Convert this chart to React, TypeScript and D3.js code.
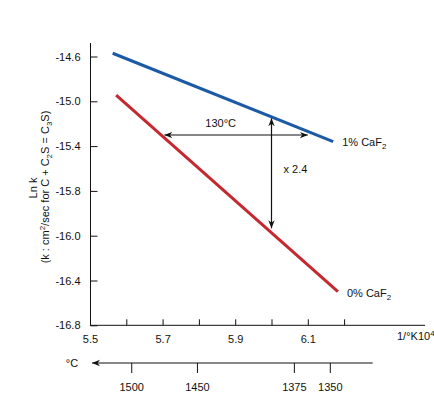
import React, { useEffect, useRef } from "react";
import * as d3 from "d3";

// axis ticks
const xTicks = [5.5, 5.6, 5.7, 5.8, 5.9, 6.0, 6.1, 6.2];
const xLabels = ["5.5", "", "5.7", "", "5.9", "", "6.1", ""];
const yTicks = [-14.6, -15.0, -15.4, -15.8, -16.0, -16.4, -16.8];
const yLabels = ["-14.6", "-15.0", "-15.4", "-15.8", "-16.0", "-16.4", "-16.8"];

// the two lines (1/K x 10^4, ln k)
const caf1X = [5.5625, 6.17];
const caf1Y = [-14.571, -15.361];
const caf0X = [5.572, 6.183];
const caf0Y = [-14.944, -16.5];

// temperature scale under the chart
const tempC = [1500, 1450, 1375, 1350];
const tempAt = [5.615, 5.796, 6.063, 6.162];

// the 130°C / x2.4 arrows
const hArrowX = [5.705, 6.1];
const hArrowY = -15.301;
const vArrowX = 6.0;
const vArrowY = [-15.152, -15.967];

const FONT = "'Liberation Sans', Arial, sans-serif";

const App = () => {
  const svgRef = useRef<SVGSVGElement>(null);

  useEffect(() => {
    const w = 434;
    const h = 393;
    const svg = d3.select(svgRef.current).attr("width", w).attr("height", h);
    svg.selectAll("*").remove();

    const x0 = 90;
    const yBottom = 325.3;
    const xScale = d3.scaleLinear().domain([5.5, 6.1]).range([x0, 307.8]);
    const yScale = d3
      .scaleLinear()
      .domain(yTicks)
      .range(yTicks.map((_, i) => 56.5 + i * 44.8));

    const defs = svg.append("defs");
    defs
      .append("marker")
      .attr("id", "head")
      .attr("viewBox", "-8 -4 9 8")
      .attr("refX", 0)
      .attr("refY", 0)
      .attr("markerWidth", 9)
      .attr("markerHeight", 8)
      .attr("markerUnits", "userSpaceOnUse")
      .attr("orient", "auto-start-reverse")
      .append("path")
      .attr("d", "M0,0L-8,-3.2L-5.5,0L-8,3.2Z")
      .attr("fill", "#111");

    // axis lines
    svg
      .append("line")
      .attr("x1", x0 + 0.5)
      .attr("x2", x0 + 0.5)
      .attr("y1", 43)
      .attr("y2", yBottom)
      .attr("stroke", "#111");
    svg
      .append("line")
      .attr("x1", x0)
      .attr("x2", 425)
      .attr("y1", yBottom)
      .attr("y2", yBottom)
      .attr("stroke", "#111");

    const yAxis = d3
      .axisLeft(yScale)
      .tickValues(yTicks)
      .tickSize(-7)
      .tickPadding(10)
      .tickFormat((d, i) => yLabels[i]);
    const gy = svg.append("g").attr("transform", `translate(${x0 + 0.5},0)`).call(yAxis);
    gy.select(".domain").remove();

    const xAxis = d3
      .axisBottom(xScale)
      .tickValues(xTicks)
      .tickSize(-6)
      .tickPadding(10)
      .tickFormat((d, i) => xLabels[i]);
    const gx = svg.append("g").attr("transform", `translate(0,${yBottom})`).call(xAxis);
    gx.select(".domain").remove();

    [gx, gy].forEach((g) => {
      g.selectAll("line").attr("stroke", "#111");
      g.selectAll("text").attr("font-size", 11).attr("font-family", FONT).attr("fill", "#111");
    });

    const xl = svg
      .append("text")
      .attr("x", 397)
      .attr("y", yBottom + 15)
      .attr("font-size", 11)
      .attr("font-family", FONT)
      .attr("fill", "#111")
      .text("1/°K10");
    xl.append("tspan").attr("dy", -4).attr("font-size", 8).text("4");

    // y title
    const yt = svg
      .append("g")
      .attr("font-size", 11)
      .attr("font-family", FONT)
      .attr("fill", "#111")
      .attr("text-anchor", "middle");
    yt.append("text")
      .attr("transform", "translate(37,188) rotate(-90)")
      .text("Ln k");
    const t2 = yt.append("text").attr("transform", "translate(49,187) rotate(-90)");
    t2.append("tspan").text("(k : cm");
    t2.append("tspan").attr("dy", -4).attr("font-size", 8).text("2");
    t2.append("tspan").attr("dy", 4).text("/sec for C + C");
    t2.append("tspan").attr("dy", 3).attr("font-size", 8).text("2");
    t2.append("tspan").attr("dy", -3).text("S = C");
    t2.append("tspan").attr("dy", 3).attr("font-size", 8).text("3");
    t2.append("tspan").attr("dy", -3).text("S)");

    // data lines
    const line = d3
      .line<number>()
      .x((d) => xScale(d))
      .y((d, i, arr) => 0);
    const drawLine = (xs: number[], ys: number[], color: string) => {
      const pts = xs.map((v, i) => [xScale(v), yScale(ys[i])] as [number, number]);
      svg
        .append("path")
        .attr("d", d3.line()(pts))
        .attr("fill", "none")
        .attr("stroke", color)
        .attr("stroke-width", 3);
      return pts[pts.length - 1];
    };
    void line;
    const end1 = drawLine(caf1X, caf1Y, "#1c5aa6");
    const end0 = drawLine(caf0X, caf0Y, "#c5282f");

    const seriesLabel = (px: number, py: number, txt: string) => {
      const t = svg
        .append("text")
        .attr("x", px)
        .attr("y", py)
        .attr("font-size", 11)
        .attr("font-family", FONT)
        .attr("fill", "#111");
      t.append("tspan").text(txt);
      t.append("tspan").attr("dy", 3).attr("font-size", 8).text("2");
    };
    seriesLabel(end1[0] + 9, end1[1] + 4, "1% CaF");
    seriesLabel(end0[0] + 9, end0[1] + 5, "0% CaF");

    // double arrows
    svg
      .append("line")
      .attr("x1", xScale(hArrowX[0]))
      .attr("x2", xScale(hArrowX[1]))
      .attr("y1", yScale(hArrowY))
      .attr("y2", yScale(hArrowY))
      .attr("stroke", "#111")
      .attr("stroke-width", 1.2)
      .attr("marker-start", "url(#head)")
      .attr("marker-end", "url(#head)");
    svg
      .append("line")
      .attr("x1", xScale(vArrowX))
      .attr("x2", xScale(vArrowX))
      .attr("y1", yScale(vArrowY[0]))
      .attr("y2", yScale(vArrowY[1]))
      .attr("stroke", "#111")
      .attr("stroke-width", 1.2)
      .attr("marker-start", "url(#head)")
      .attr("marker-end", "url(#head)");

    svg
      .append("text")
      .attr("x", xScale(5.86))
      .attr("y", yScale(hArrowY) - 8)
      .attr("text-anchor", "middle")
      .attr("font-size", 11)
      .attr("font-family", FONT)
      .attr("fill", "#111")
      .text("130°C");
    svg
      .append("text")
      .attr("x", xScale(vArrowX) + 12)
      .attr("y", yScale(-15.638))
      .attr("font-size", 11)
      .attr("font-family", FONT)
      .attr("fill", "#111")
      .text("x 2.4");

    // °C scale
    const cy = 363;
    svg
      .append("line")
      .attr("x1", 372.7)
      .attr("x2", 92)
      .attr("y1", cy)
      .attr("y2", cy)
      .attr("stroke", "#111")
      .attr("stroke-width", 1.2)
      .attr("marker-end", "url(#head)");
    svg
      .append("text")
      .attr("x", 72)
      .attr("y", cy + 4)
      .attr("text-anchor", "middle")
      .attr("font-size", 11)
      .attr("font-family", FONT)
      .attr("fill", "#111")
      .text("°C");
    const tg = svg.append("g");
    tg.selectAll("line")
      .data(tempAt)
      .join("line")
      .attr("x1", (d) => xScale(d))
      .attr("x2", (d) => xScale(d))
      .attr("y1", cy)
      .attr("y2", cy + 10)
      .attr("stroke", "#111");
    tg.selectAll("text")
      .data(tempC)
      .join("text")
      .attr("x", (d, i) => xScale(tempAt[i]))
      .attr("y", cy + 28)
      .attr("text-anchor", "middle")
      .attr("font-size", 11)
      .attr("font-family", FONT)
      .attr("fill", "#111")
      .text((d) => String(d));
  }, []);

  return (
    <svg
      ref={svgRef}
      style={{ position: "absolute", left: 0, top: 0, display: "block", background: "#fff" }}
    ></svg>
  );
};

export default App;
